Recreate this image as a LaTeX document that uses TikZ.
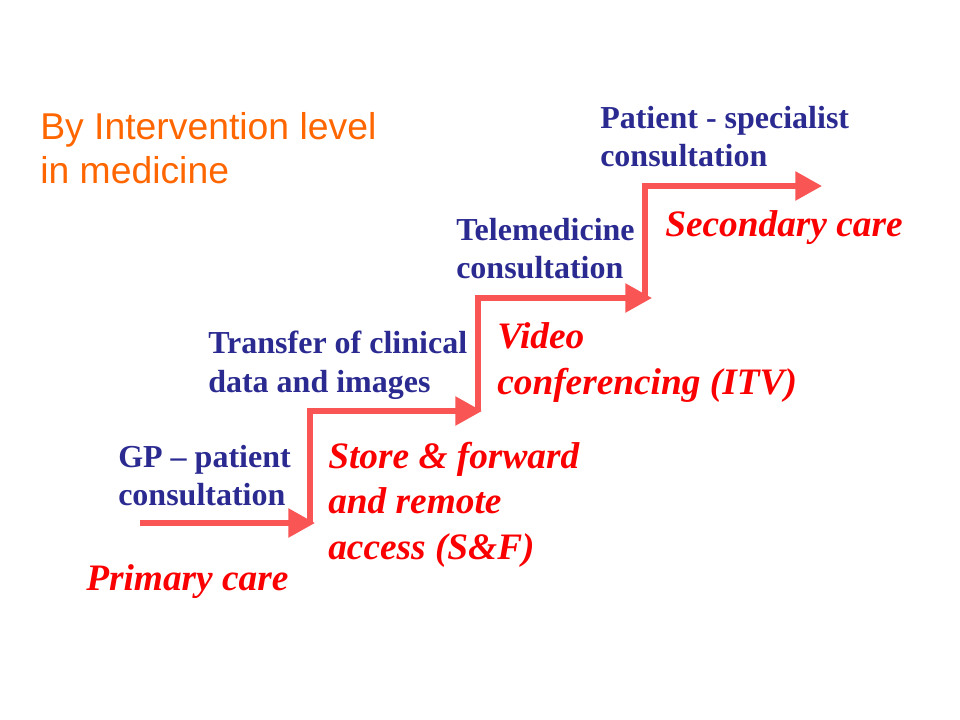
\documentclass[tikz,border=0pt]{standalone}
\usepackage{fontspec}
\usepackage{tikz}
\usetikzlibrary{arrows.meta}
\setmainfont{Liberation Serif}
\newfontfamily\titlefont{Liberation Sans}
\definecolor{stairred}{RGB}{250,85,85}
\definecolor{navytext}{RGB}{42,42,145}
\definecolor{caretext}{RGB}{250,0,0}
\definecolor{titleorange}{RGB}{255,102,0}

\begin{document}
\begin{tikzpicture}[x=0.75pt, y=-0.75pt,
		stair/.style={line width=4.2pt, draw=stairred, line join=miter, -{Triangle[length=20pt,width=21pt]}},
		level text/.style={anchor=base west, inner sep=0pt, align=left, text=navytext, font=\fontsize{24}{28.5}\selectfont\bfseries},
		care text/.style={anchor=base west, inner sep=0pt, align=left, text=caretext, font=\fontsize{28}{34}\selectfont\bfseries\itshape},
		title text/.style={anchor=base west, inner sep=0pt, align=left, text=titleorange, font=\titlefont\fontsize{28}{33}\selectfont}]
		
		\useasboundingbox (0,0) rectangle (960,720);
		
		% anchors sit on the baseline of the last line
		\node[title text] (title) at (40,184) {By Intervention level\\in medicine};
		
		\node[level text] (gp) at (118,505) {GP – patient\\consultation};
		\node[level text] (transfer) at (208,392) {Transfer of clinical\\data and images};
		\node[level text] (tele) at (456,279) {Telemedicine\\consultation};
		\node[level text] (spec) at (600,167) {Patient - specialist\\consultation};
		
		\node[care text] (primary) at (86,590) {Primary care};
		\node[care text] (sf) at (328,559) {Store \& forward\\and remote\\access (S\&F)};
		\node[care text] (itv) at (497,394) {Video\\conferencing (ITV)};
		\node[care text] (secondary) at (665,237) {Secondary care};
		
		\coordinate (s0) at (140,523);
		\coordinate (t1) at (315,523);
		\coordinate (s1) at (310,523);
		\coordinate (t2) at (482,411);
		\coordinate (s2) at (478,411);
		\coordinate (t3) at (652,298);
		\coordinate (s3) at (645,298);
		\coordinate (t4) at (822,186);
		
		\draw[stair] (s0) -- (t1);
		\draw[stair] (s1) |- (t2);
		\draw[stair] (s2) |- (t3);
		\draw[stair] (s3) |- (t4);
\end{tikzpicture}
\end{document}
